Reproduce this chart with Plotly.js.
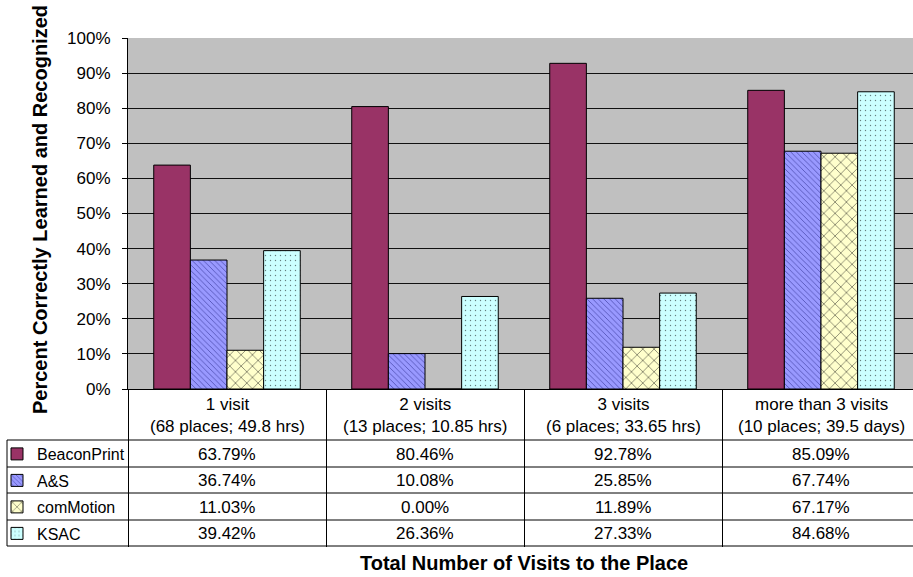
<!DOCTYPE html>
<html>
<head>
<meta charset="utf-8">
<script src="https://cdn.plot.ly/plotly-3.0.1.min.js"></script>
<style>
html, body { margin: 0; padding: 0; overflow: hidden; background: #fff; }
#chart { width: 921px; height: 577px; }
</style>
</head>
<body>
<div id="chart"></div>
<script>
// ---- data ----
const categories = ['1 visit', '2 visits', '3 visits', 'more than 3 visits'];
const categoryDetails = ['(68 places; 49.8 hrs)', '(13 places; 10.85 hrs)', '(6 places; 33.65 hrs)', '(10 places; 39.5 days)'];
const seriesNames = ['BeaconPrint', 'A&S', 'comMotion', 'KSAC'];
const beaconPrint = [63.79, 80.46, 92.78, 85.09];
const aAndS = [36.74, 10.08, 25.85, 67.74];
const comMotion = [11.03, 0.00, 11.89, 67.17];
const ksac = [39.42, 26.36, 27.33, 84.68];
const yTickValues = [0, 10, 20, 30, 40, 50, 60, 70, 80, 90, 100];

// ---- styles ----
const seriesValues = [beaconPrint, aAndS, comMotion, ksac];
const fills = ['#993366', '#9999FF', '#FFFFCC', '#CCFFFF'];
const patterns = [
  { shape: '' },
  { shape: '\\', fgcolor: '#000060', size: 4, solidity: 0.2 },
  { shape: 'x', fgcolor: '#000000', size: 8, solidity: 0.2 },
  { shape: '.', fgcolor: '#000000', size: 5, solidity: 0.06 }
];

// pixel geometry (page coords)
const W = 921, H = 577;
const plotL = 128, plotR = 920, plotT = 38, plotB = 389;
const plotW = plotR - plotL, plotH = plotB - plotT;
const tableLeft = 7;
const rowLines = [440, 467, 493, 520, 546];
const px2x = p => (p - plotL) / plotW;
const py2y = p => (plotB - p) / plotH;

const FONT = 'Arial, "Liberation Sans", sans-serif';
const FS = 17;

const traces = seriesNames.map((name, i) => ({
  type: 'bar',
  name: name,
  x: categories,
  y: seriesValues[i],
  legendgroup: 'g' + i,
  marker: {
    color: fills[i],
    line: { color: '#000000', width: 1 },
    pattern: Object.assign({ bgcolor: fills[i], fillmode: 'overlay' }, patterns[i])
  },
  hoverinfo: 'x+y+name'
}));

const annotations = [];
// header row (category labels)
categories.forEach((c, j) => {
  annotations.push({
    xref: 'x', yref: 'paper', x: c, y: py2y((plotB + rowLines[0]) / 2 + 1),
    text: c + '<br>' + categoryDetails[j], showarrow: false,
    xanchor: 'center', yanchor: 'middle',
    font: { family: FONT, size: FS, color: '#000' }
  });
});
// data cells
seriesValues.forEach((vals, i) => {
  vals.forEach((v, j) => {
    annotations.push({
      xref: 'x', yref: 'paper', x: categories[j],
      y: py2y((rowLines[i] + rowLines[i + 1]) / 2 + 0.5),
      text: v.toFixed(2) + '%', showarrow: false,
      xanchor: 'center', yanchor: 'middle',
      font: { family: FONT, size: FS, color: '#000' }
    });
  });
});
// axis titles
annotations.push({
  xref: 'paper', yref: 'paper', x: px2x(524), y: py2y(563),
  text: '<b>Total Number of Visits to the Place</b>', showarrow: false,
  xanchor: 'center', yanchor: 'middle',
  font: { family: FONT, size: 20, color: '#000' }
});
annotations.push({
  xref: 'paper', yref: 'paper', x: px2x(40), y: py2y(210),
  text: '<b>Percent Correctly Learned and Recognized</b>', showarrow: false,
  textangle: -90, xanchor: 'center', yanchor: 'middle',
  font: { family: FONT, size: 20, color: '#000' }
});

const shapes = [];
rowLines.forEach(r => {
  shapes.push({
    type: 'line', xref: 'paper', yref: 'paper',
    x0: px2x(tableLeft), x1: 1.01, y0: py2y(r), y1: py2y(r),
    line: { color: '#000', width: 1 }
  });
});
shapes.push({
  type: 'line', xref: 'paper', yref: 'paper',
  x0: px2x(tableLeft), x1: px2x(tableLeft), y0: py2y(rowLines[0]), y1: py2y(rowLines[rowLines.length - 1]),
  line: { color: '#000', width: 1 }
});

const layout = {
  width: W, height: H,
  margin: { l: plotL, r: W - plotR, t: plotT, b: H - plotB, pad: 0, autoexpand: false },
  paper_bgcolor: '#ffffff',
  plot_bgcolor: '#C0C0C0',
  barmode: 'group',
  bargap: 0.26,
  bargroupgap: 0,
  font: { family: FONT, size: FS, color: '#000' },
  showlegend: true,
  legend: {
    x: px2x(-3), y: py2y(rowLines[0] - 3),
    xanchor: 'left', yanchor: 'top',
    traceorder: 'grouped', tracegroupgap: 2.7,
    bgcolor: 'rgba(0,0,0,0)', borderwidth: 0,
    font: { family: FONT, size: 16, color: '#000' },
    itemwidth: 30
  },
  xaxis: {
    type: 'category',
    showticklabels: false,
    ticks: 'outside', tickson: 'boundaries', ticklen: rowLines[rowLines.length - 1] - plotB,
    tickcolor: '#000', tickwidth: 1,
    showline: true, linecolor: '#000', linewidth: 1,
    showgrid: false, zeroline: false,
    fixedrange: true
  },
  yaxis: {
    range: [0, 100],
    tickvals: yTickValues,
    ticktext: yTickValues.map(v => v + '%'),
    ticks: 'outside', ticklen: 5, tickcolor: '#000', tickwidth: 1,
    ticklabelstandoff: 8,
    tickfont: { family: FONT, size: FS, color: '#000' },
    showline: true, linecolor: '#000', linewidth: 1,
    showgrid: true, gridcolor: '#111', gridwidth: 1,
    zeroline: false,
    fixedrange: true
  },
  annotations: annotations,
  shapes: shapes
};

Plotly.newPlot('chart', traces, layout, { displayModeBar: false, staticPlot: true });
</script>
</body>
</html>
